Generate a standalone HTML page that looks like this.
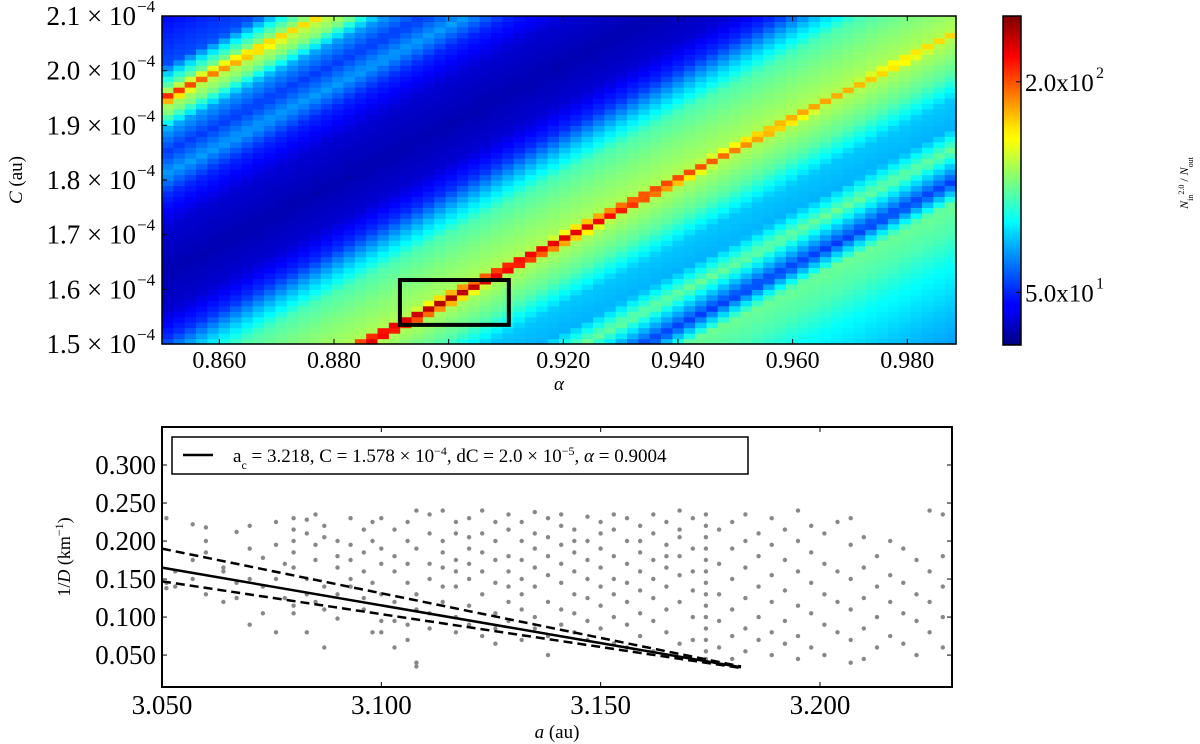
<!DOCTYPE html>
<html><head><meta charset="utf-8"><style>
html,body{margin:0;padding:0;background:#fff;}
svg{display:block;font-family:"Liberation Serif",serif;}
</style></head><body>
<svg id="fig" width="1200" height="744" viewBox="0 0 1200 744" xmlns="http://www.w3.org/2000/svg">
<defs>
<linearGradient id="jet" x1="0" y1="1" x2="0" y2="0">
<stop offset="0" stop-color="#00007f"/><stop offset="0.11" stop-color="#0000ff"/><stop offset="0.125" stop-color="#0000ff"/><stop offset="0.34" stop-color="#00d4ff"/><stop offset="0.375" stop-color="#00ffff"/><stop offset="0.5" stop-color="#7dff7a"/><stop offset="0.625" stop-color="#ffff00"/><stop offset="0.66" stop-color="#ffe600"/><stop offset="0.875" stop-color="#ff0000"/><stop offset="1" stop-color="#7f0000"/>
</linearGradient>
</defs>
<g id="heat"></g>
<rect id="zoombox" fill="none" stroke="#000" stroke-width="4"/>
<rect x="162" y="16" width="794" height="328" fill="none" stroke="#000" stroke-width="1.5"/>
<g id="topTicks"></g>
<text x="559" y="390" font-size="19" font-style="italic" text-anchor="middle">α</text>
<text transform="translate(22,180) rotate(-90)" font-size="19" text-anchor="middle"><tspan font-style="italic">C</tspan> (au)</text>
<rect x="1003" y="16" width="18" height="329" fill="url(#jet)" stroke="#000" stroke-width="1.5"/>
<g id="cbTicks"></g>
<text transform="translate(1188,183) rotate(-90)" font-size="12" text-anchor="middle"><tspan font-style="italic">N</tspan><tspan font-size="8" baseline-shift="sub">in</tspan><tspan font-size="8" baseline-shift="super">2.0</tspan> / <tspan font-style="italic">N</tspan><tspan font-size="8" baseline-shift="sub">out</tspan></text>

<g id="scatter"></g>
<g id="lines"></g>
<rect x="162" y="427" width="790" height="260" fill="none" stroke="#000" stroke-width="2"/>
<g id="botTicks"></g>
<g>
<rect x="172" y="437" width="576" height="37" fill="#fff" stroke="#000" stroke-width="1.5"/>
<line x1="183" y1="455" x2="213" y2="455" stroke="#000" stroke-width="2.5"/>
<text x="233" y="462" font-size="19">a<tspan font-size="12" baseline-shift="sub">c</tspan> = 3.218,  C = 1.578 × 10<tspan font-size="12" baseline-shift="super">−4</tspan>,  dC = 2.0 × 10<tspan font-size="12" baseline-shift="super">−5</tspan>,  <tspan font-style="italic">α</tspan> = 0.9004</text>
</g>
<text x="557" y="738" font-size="19" text-anchor="middle"><tspan font-style="italic">a</tspan> (au)</text>
<text transform="translate(70,557) rotate(-90)" font-size="18" text-anchor="middle">1/<tspan font-style="italic">D</tspan> (km<tspan font-size="12" baseline-shift="super">−1</tspan>)</text>
</svg>
<script>
// ---------- heatmap data ----------
const alphaDomain = [0.85, 0.9885];
const cDomain = [1.5, 2.1];
const nCols = 70;
const nRows = 60;
const bandSlope = 5.5;            // ridge slope dC/dα (1e-4 units)
const profileU = [0.90,1.00,1.08,1.14,1.19,1.23,1.26,1.29,1.33,1.38,1.43,1.47,1.50,1.53,1.57,1.62,1.66,1.70,1.75,1.82,1.90,1.96,2.00,2.04,2.08,2.11,2.14,2.17,2.20,2.30,2.50];
const profileT = [0.26,0.32,0.38,0.45,0.48,0.18,0.32,0.48,0.30,0.32,0.46,0.52,0.56,0.53,0.50,0.45,0.32,0.17,0.08,0.05,0.08,0.16,0.28,0.18,0.28,0.50,0.58,0.42,0.20,0.12,0.12];
const mainRidgeAlpha = [0.85,0.87,0.90,0.93,0.95,0.97,0.99];
const mainRidgePeak  = [0.95,0.92,0.95,0.88,0.76,0.70,0.66];
const upperRidgeAlpha = [0.85,0.86,0.875,0.90];
const upperRidgePeak  = [0.86,0.74,0.66,0.58];
const boxAlpha = [0.8915, 0.9105];
const boxC = [1.535, 1.617];
const xTickVals = [0.86,0.88,0.90,0.92,0.94,0.96,0.98];
const xTickLabels = ["0.860","0.880","0.900","0.920","0.940","0.960","0.980"];
const yTickVals = [1.5,1.6,1.7,1.8,1.9,2.0,2.1];
const yTickLabels = ["1.5","1.6","1.7","1.8","1.9","2.0","2.1"];
const cbTickPos = [0.80, 0.16];
const cbTickLabels = ["2.0x10", "5.0x10"];
const cbTickExp = ["2","1"];

// ---------- scatter data ----------
const colA = [3.051,3.053,3.057,3.060,3.064,3.067,3.070,3.073,3.076,3.078,3.080,3.083,3.085,3.087,3.090,3.093,3.096,3.098,3.100,3.103,3.106,3.108,3.111,3.114,3.117,3.120,3.123,3.126,3.129,3.132,3.135,3.138,3.141,3.144,3.147,3.150,3.153,3.156,3.159,3.162,3.165,3.168,3.171,3.174,3.177,3.180,3.183,3.186,3.189,3.192,3.195,3.198,3.201,3.204,3.207,3.210,3.213,3.216,3.219,3.222,3.225,3.228];
const colV = [
[0.138,0.145,0.230],[0.140,0.160],[0.222,0.175,0.150],[0.218,0.200,0.130,0.185],[0.120,0.165,0.160],[0.212,0.145,0.125],
[0.090,0.190,0.150,0.220],[0.178,0.140,0.105],[0.225,0.195,0.080,0.150],[0.170,0.125],[0.230,0.215,0.200,0.185,0.165,0.115,0.105],
[0.228,0.210,0.080,0.130,0.150],[0.235,0.195,0.120,0.175],[0.220,0.205,0.060,0.110,0.140],[0.200,0.165,0.130,0.098,0.180],
[0.195,0.150,0.140,0.230,0.175],[0.215,0.185,0.160,0.125,0.110],[0.200,0.080,0.145,0.225],[0.230,0.170,0.095,0.080,0.190,0.130],
[0.215,0.160,0.120,0.060,0.095,0.180],[0.200,0.145,0.090,0.070,0.170,0.225],[0.035,0.040,0.110,0.130,0.240,0.190],
[0.235,0.210,0.150,0.105,0.170,0.085],[0.240,0.200,0.185,0.140,0.120,0.165],[0.225,0.175,0.160,0.100,0.080,0.210,0.140],
[0.230,0.190,0.170,0.150,0.115,0.090,0.205],[0.240,0.210,0.160,0.130,0.075,0.185],[0.200,0.175,0.145,0.105,0.225,0.085,0.065],
[0.235,0.215,0.180,0.160,0.120,0.095,0.140],[0.225,0.200,0.175,0.150,0.130,0.070,0.110],[0.238,0.190,0.165,0.140,0.100,0.085,0.210],
[0.230,0.205,0.180,0.120,0.075,0.155,0.050],[0.220,0.195,0.170,0.145,0.110,0.090,0.235],[0.215,0.185,0.160,0.130,0.080,0.105,0.200],
[0.232,0.200,0.175,0.150,0.125,0.070,0.095],[0.225,0.190,0.165,0.140,0.115,0.085,0.210],[0.215,0.180,0.150,0.130,0.100,0.065,0.235],
[0.230,0.200,0.170,0.145,0.120,0.090,0.060],[0.220,0.185,0.160,0.135,0.105,0.075,0.200],[0.235,0.210,0.175,0.150,0.125,0.095,0.055],
[0.225,0.195,0.165,0.140,0.110,0.080,0.180],[0.240,0.205,0.180,0.155,0.120,0.065,0.215],[0.230,0.190,0.160,0.135,0.100,0.070],
[0.235,0.220,0.205,0.190,0.175,0.160,0.145,0.130,0.115,0.100,0.085,0.070,0.055,0.045],
[0.215,0.170,0.130,0.095,0.060],[0.225,0.190,0.150,0.110,0.075,0.045],[0.235,0.200,0.165,0.125,0.085,0.055],[0.210,0.180,0.140,0.100,0.070],
[0.230,0.195,0.155,0.120,0.080,0.050],[0.215,0.175,0.135,0.095,0.065],[0.240,0.200,0.160,0.115,0.075,0.045],[0.220,0.185,0.145,0.105,0.060],
[0.210,0.170,0.130,0.090,0.050],[0.225,0.160,0.120,0.080],[0.230,0.195,0.150,0.110,0.070,0.040],[0.205,0.165,0.125,0.085,0.045],
[0.180,0.140,0.100,0.060],[0.200,0.155,0.120,0.075],[0.190,0.145,0.105,0.065],[0.175,0.130,0.095,0.050],[0.240,0.160,0.120,0.080],[0.235,0.180,0.140,0.100,0.060]
];
const solidLine = [[3.05,0.165],[3.182,0.034]];
const upperDash = [[3.05,0.190],[3.182,0.035]];
const lowerDash = [[3.05,0.147],[3.182,0.033]];
const aDomain = [3.05, 3.2301];
const vDomain = [0.008, 0.350];
const bxTickVals = [3.05,3.10,3.15,3.20];
const bxTickLabels = ["3.050","3.100","3.150","3.200"];
const byTickVals = [0.05,0.10,0.15,0.20,0.25,0.30];
const byTickLabels = ["0.050","0.100","0.150","0.200","0.250","0.300"];

// ---------- helpers ----------
const NS = "http://www.w3.org/2000/svg";
const TX = [162, 956], TY = [344, 16];
const BX = [162, 952], BY = [687, 427];
function xA(a){return TX[0]+(a-alphaDomain[0])/(alphaDomain[1]-alphaDomain[0])*(TX[1]-TX[0]);}
function yC(c){return TY[0]+(c-cDomain[0])/(cDomain[1]-cDomain[0])*(TY[1]-TY[0]);}
function xB(a){return BX[0]+(a-aDomain[0])/(aDomain[1]-aDomain[0])*(BX[1]-BX[0]);}
function yB(v){return BY[0]+(v-vDomain[0])/(vDomain[1]-vDomain[0])*(BY[1]-BY[0]);}
function interp(xs, ys, x){
  if(x<=xs[0]) return ys[0];
  for(let i=1;i<xs.length;i++){ if(x<=xs[i]){const f=(x-xs[i-1])/(xs[i]-xs[i-1]); return ys[i-1]+f*(ys[i]-ys[i-1]);} }
  return ys[ys.length-1];
}
function clamp(v){return Math.max(0,Math.min(1,v));}
function jet(t){
  const r=clamp(1.5-Math.abs(4*t-3)), g=clamp(1.5-Math.abs(4*t-2)), b=clamp(1.5-Math.abs(4*t-1));
  return "rgb("+Math.round(r*255)+","+Math.round(g*255)+","+Math.round(b*255)+")";
}
function mk(tag, attrs, parent){const e=document.createElementNS(NS,tag); for(const k in attrs) e.setAttribute(k,attrs[k]); parent.appendChild(e); return e;}

// ---------- heatmap ----------
const heat = document.getElementById("heat");
const dA = (alphaDomain[1]-alphaDomain[0])/nCols, dC=(cDomain[1]-cDomain[0])/nRows;
for(let i=0;i<nCols;i++){
  const a = alphaDomain[0]+(i+0.5)*dA;
  const pm = interp(mainRidgeAlpha, mainRidgePeak, a);
  const pu = interp(upperRidgeAlpha, upperRidgePeak, a);
  for(let j=0;j<nRows;j++){
    const c = cDomain[0]+(j+0.5)*dC;
    const uu = c - bandSlope*(a-0.885);
    let t = interp(profileU, profileT, uu);
    t = Math.max(t, pm*Math.exp(-Math.pow((uu-1.50)/0.018,2)));
    t = Math.max(t, pu*Math.exp(-Math.pow((uu-2.14)/0.018,2)));
    const x0=xA(alphaDomain[0]+i*dA), x1=xA(alphaDomain[0]+(i+1)*dA);
    const y0=yC(cDomain[0]+(j+1)*dC), y1=yC(cDomain[0]+j*dC);
    const r = mk("rect",{x:x0.toFixed(2),y:y0.toFixed(2),width:(x1-x0+0.6).toFixed(2),height:(y1-y0+0.6).toFixed(2),fill:jet(t)},heat);
    
    
  }
}
const zb = document.getElementById("zoombox");
zb.setAttribute("x", xA(boxAlpha[0])); zb.setAttribute("width", xA(boxAlpha[1])-xA(boxAlpha[0]));
zb.setAttribute("y", yC(boxC[1])); zb.setAttribute("height", yC(boxC[0])-yC(boxC[1]));

// top ticks
const tt = document.getElementById("topTicks");
xTickVals.forEach((v,k)=>{
  const x=xA(v);
  const l1=mk("line",{x1:x,y1:344,x2:x,y2:339,stroke:"#000","stroke-width":1},tt);
  
  
  const l2=mk("line",{x1:x,y1:16,x2:x,y2:21,stroke:"#000","stroke-width":1},tt);
  
  
  const t=mk("text",{x:x,y:368,"font-size":24,"text-anchor":"middle"},tt);
  t.textContent=xTickLabels[k];
  
  
});
yTickVals.forEach((v,k)=>{
  const y=yC(v);
  const l1=mk("line",{x1:162,y1:y,x2:167,y2:y,stroke:"#000","stroke-width":1},tt);
  
  
  const t=mk("text",{x:136,y:y+9,"font-size":27,"text-anchor":"end"},tt);
  t.textContent=yTickLabels[k]+" × 10";
  
  
  const s=mk("text",{x:137,y:y-4,"font-size":17},tt);
  s.textContent="−4";
  
  
});
// colorbar ticks
const cb = document.getElementById("cbTicks");
cbTickPos.forEach((p,k)=>{
  const y = 345 - p*329;
  const l=mk("line",{x1:1016,y1:y,x2:1021,y2:y,stroke:"#000","stroke-width":1},cb);
  
  
  const t=mk("text",{x:1025,y:y+9,"font-size":25},cb);
  t.textContent=cbTickLabels[k];
  
  
  const s=mk("text",{x:1096,y:y-4,"font-size":16},cb);
  s.textContent=cbTickExp[k];
  
  
});

// ---------- scatter ----------
const sc = document.getElementById("scatter");
colA.forEach((a,i)=>{
  colV[i].forEach(v=>{
    const c=mk("circle",{cx:xB(a).toFixed(1),cy:yB(v).toFixed(1),r:2.2,fill:"#888"},sc);
    
    
  });
});
const ln = document.getElementById("lines");
function drawLine(pts, dash, name){
  const l=mk("line",{x1:xB(pts[0][0]),y1:yB(pts[0][1]),x2:xB(pts[1][0]),y2:yB(pts[1][1]),stroke:"#000","stroke-width":2.5},ln);
  if(dash) l.setAttribute("stroke-dasharray","9,5");
  
  
}
drawLine(solidLine,false,"fit-line");
drawLine(upperDash,true,"upper-bound-line");
drawLine(lowerDash,true,"lower-bound-line");
const bt = document.getElementById("botTicks");
bxTickVals.forEach((v,k)=>{
  const x=xB(v);
  const l1=mk("line",{x1:x,y1:687,x2:x,y2:682,stroke:"#000","stroke-width":1},bt);
  
  
  const l2=mk("line",{x1:x,y1:427,x2:x,y2:432,stroke:"#000","stroke-width":1},bt);
  
  
  const t=mk("text",{x:x,y:714,"font-size":27,"text-anchor":"middle"},bt);
  t.textContent=bxTickLabels[k];
  
  
});
byTickVals.forEach((v,k)=>{
  const y=yB(v);
  const l1=mk("line",{x1:162,y1:y,x2:167,y2:y,stroke:"#000","stroke-width":1},bt);
  
  
  const l2=mk("line",{x1:952,y1:y,x2:947,y2:y,stroke:"#000","stroke-width":1},bt);
  
  
  const t=mk("text",{x:156,y:y+9,"font-size":27,"text-anchor":"end"},bt);
  t.textContent=byTickLabels[k];
  
  
});
</script>
</body></html>
